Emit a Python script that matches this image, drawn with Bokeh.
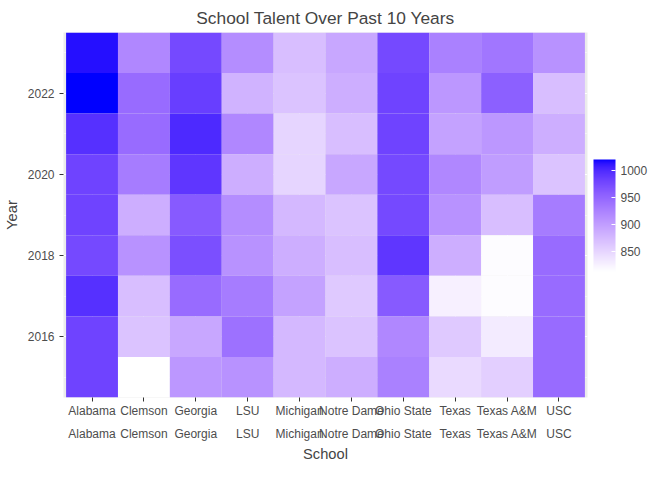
import numpy as np
from bokeh.plotting import figure
from bokeh.models import (LinearColorMapper, ColorBar, ColumnDataSource, FixedTicker,
                          FactorRange, Range1d, CategoricalAxis, Label)
from bokeh.embed import file_html
from bokeh.resources import INLINE

schools = ["Alabama", "Clemson", "Georgia", "LSU", "Michigan", "Notre Dame",
           "Ohio State", "Texas", "Texas A&M", "USC"]
years = [2023, 2022, 2021, 2020, 2019, 2018, 2017, 2016, 2015]
talent_by_year = [
    [1015, 920, 975, 915, 870, 890, 975, 925, 935, 910],
    [1020, 945, 985, 880, 865, 885, 980, 905, 955, 870],
    [995, 945, 1000, 920, 850, 870, 980, 895, 905, 885],
    [980, 930, 990, 885, 850, 890, 975, 920, 900, 865],
    [980, 885, 960, 915, 875, 865, 975, 910, 870, 930],
    [975, 910, 970, 910, 885, 870, 990, 885, 815, 945],
    [995, 870, 945, 930, 895, 860, 960, 825, 815, 945],
    [980, 865, 890, 940, 875, 865, 920, 860, 830, 945],
    [980, 812, 905, 910, 875, 885, 925, 845, 855, 945],
]

# white -> blue palette interpolated in Lab space like ggplot
def srgb_to_lab(rgb):
    c = np.array(rgb) / 255.0
    c = np.where(c > 0.04045, ((c + 0.055) / 1.055) ** 2.4, c / 12.92)
    M = np.array([[0.4124, 0.3576, 0.1805], [0.2126, 0.7152, 0.0722], [0.0193, 0.1192, 0.9505]])
    xyz = M @ c / np.array([0.95047, 1.0, 1.08883])
    f = np.where(xyz > 0.008856, np.cbrt(xyz), 7.787 * xyz + 16 / 116)
    return np.array([116 * f[1] - 16, 500 * (f[0] - f[1]), 200 * (f[1] - f[2])])

def lab_to_hex(lab):
    L, a, b = lab
    fy = (L + 16) / 116
    f = np.array([fy + a / 500, fy, fy - b / 200])
    xyz = np.where(f ** 3 > 0.008856, f ** 3, (f - 16 / 116) / 7.787) * np.array([0.95047, 1.0, 1.08883])
    Mi = np.array([[3.2406, -1.5372, -0.4986], [-0.9689, 1.8758, 0.0415], [0.0557, -0.2040, 1.0570]])
    c = Mi @ xyz
    c = np.where(c > 0.0031308, 1.055 * np.clip(c, 0, None) ** (1 / 2.4) - 0.055, 12.92 * c)
    c = np.clip(np.round(c * 255), 0, 255).astype(int)
    return "#%02x%02x%02x" % tuple(c)

lo, hi = srgb_to_lab((255, 255, 255)), srgb_to_lab((0, 0, 255))
palette = [lab_to_hex(lo + (hi - lo) * t) for t in np.linspace(0, 1, 256)]

xs, ys, vals = [], [], []
for y, row in zip(years, talent_by_year):
    for s, v in zip(schools, row):
        xs.append(s); ys.append(y); vals.append(v)
src = ColumnDataSource(dict(school=xs, year=ys, talent=vals))

mapper = LinearColorMapper(palette=palette, low=min(vals), high=max(vals))

p = figure(width=656, height=464, output_backend="svg", toolbar_location=None,
           x_range=FactorRange(*schools, range_padding=0.01), y_range=Range1d(2014.5, 2023.5),
           title="School Talent Over Past 10 Years")
p.rect(x="school", y="year", width=1, height=1, source=src,
       fill_color={"field": "talent", "transform": mapper}, line_color=None)

font = "Liberation Sans"
p.title.align = "center"
p.title.text_font = font
p.title.text_font_size = "13pt"
p.title.text_font_style = "normal"
p.background_fill_color = "#EBEBEB"
p.border_fill_color = "white"
p.outline_line_color = None
p.grid.grid_line_color = "white"
p.ygrid.minor_grid_line_color = "white"
p.ygrid.minor_grid_line_width = 0.5
p.yaxis.ticker = FixedTicker(ticks=[2016, 2018, 2020, 2022], minor_ticks=[2015, 2017, 2019, 2021, 2023])
p.yaxis.axis_label = "Year"

# staggered school labels: even ones on the first axis, odd ones on a second
p.xaxis.major_label_overrides = {s: ("" if i % 2 else s) for i, s in enumerate(schools)}
ax2 = CategoricalAxis(major_label_overrides={s: (s if i % 2 else "") for i, s in enumerate(schools)},
                      axis_label="School")
p.add_layout(ax2, "below")
ax2.major_tick_line_color = None
ax2.major_label_standoff = 0

for ax in (p.xaxis[0], ax2, p.yaxis[0]):
    ax.axis_line_color = None
    ax.minor_tick_line_color = None
    ax.major_label_text_font = font
    ax.major_label_text_font_size = "9pt"
    ax.major_label_text_color = "#4D4D4D"
    ax.axis_label_text_font = font
    ax.axis_label_text_font_size = "11pt"
    ax.axis_label_text_font_style = "normal"
for ax in (p.xaxis[0], p.yaxis[0]):
    ax.major_tick_line_color = "#333333"
    ax.major_tick_out = 4
    ax.major_tick_in = 0
p.xaxis[0].major_label_standoff = 2
ax2.axis_label_standoff = 2

cb = ColorBar(color_mapper=mapper, ticker=FixedTicker(ticks=[850, 900, 950, 1000]),
              major_label_text_font=font,
              major_label_text_font_size="9pt", major_label_text_color="#4D4D4D",
              width=22, height=112, major_tick_line_color="white", major_tick_in=4,
              major_tick_out=0, bar_line_color=None, border_line_color=None,
              background_fill_color=None, location="center", padding=6)
p.add_layout(cb, "right")
p.add_layout(Label(x=10.3, y=2020.9, text="talent", text_font=font, text_font_size="11pt",
                   text_color="black"))

open("out.html", "w").write(file_html(p, INLINE))
